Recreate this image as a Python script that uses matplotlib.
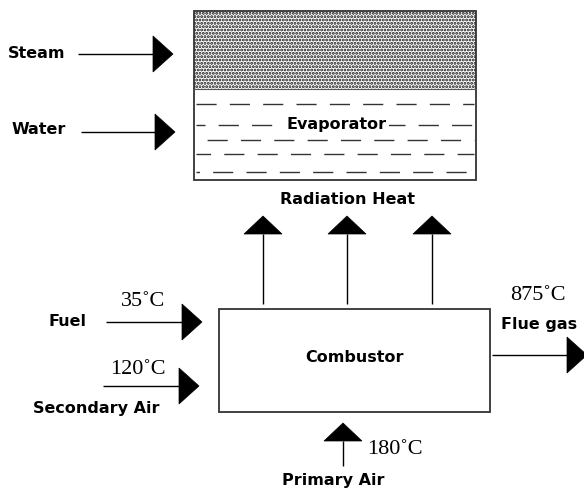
import matplotlib
matplotlib.use("Agg")
import matplotlib.pyplot as plt
from matplotlib.patches import Rectangle, Polygon

plt.rcParams['hatch.linewidth'] = 1.4

# Diagram labels
inlet_labels = ["Steam", "Water"]
feed_labels = ["Fuel", "Secondary Air"]
feed_temps = ["35˚C", "120˚C"]
flue_label = "Flue gas"
flue_temp = "875˚C"
primary_label = "Primary Air"
primary_temp = "180˚C"
unit_labels = ["Evaporator", "Combustor"]
heat_label = "Radiation Heat"

W, H = 584, 489
fig = plt.figure(figsize=(W / 100, H / 100), dpi=100)
ax = fig.add_axes([0, 0, 1, 1])
ax.set_xlim(0, W)
ax.set_ylim(H, 0)
ax.axis('off')

BOLD = dict(family='DejaVu Sans', fontweight='bold', fontsize=11.5, color='black')
SERIF = dict(family='Liberation Serif', fontsize=16, color='black')
EC = '#333333'


def harrow(x0, x1, y, head=20, half=18):
    ax.plot([x0, x1], [y, y], color='black', lw=1.0, solid_capstyle='butt')
    ax.add_patch(Polygon([[x1, y - half], [x1 + head, y], [x1, y + half]],
                         closed=True, fc='black', ec='black', lw=0.5))


def varrow(x, y0, y1, head=18, half=19):
    # y0 bottom, y1 base of the head (upwards)
    ax.plot([x, x], [y0, y1], color='black', lw=1.0, solid_capstyle='butt')
    ax.add_patch(Polygon([[x - half, y1], [x, y1 - head], [x + half, y1]],
                         closed=True, fc='black', ec='black', lw=0.5))


# Evaporator box
ex0, ey0, ex1, ey1, esplit = 194, 12, 476, 181, 90
ax.add_patch(Rectangle((ex0, ey0), ex1 - ex0, esplit - ey0, fc='white', ec='#111111',
                       hatch='.....', lw=0))
ax.add_patch(Rectangle((ex0, ey0), ex1 - ex0, ey1 - ey0, fc='none', ec=EC, lw=1.3))
ax.plot([ex0, ex1], [esplit, esplit], color='#555555', lw=0.8)

# water dashes
rows = [(105, 0), (126, 8), (141, 16), (155, 4), (173, 12)]
for yy, off in rows:
    ax.plot([ex0 + 2, ex1 - 2], [yy, yy], color='#333333', lw=1.0,
            linestyle=(off, (14.5, 9.5)))
ax.text(337, 125, unit_labels[0], ha='center', va='center',
        bbox=dict(fc='white', ec='none', pad=1.5), **BOLD)

# inlet arrows to evaporator
ax.text(8, 54, inlet_labels[0], ha='left', va='center', **BOLD)
harrow(78, 153, 55)
ax.text(12, 130, inlet_labels[1], ha='left', va='center', **BOLD)
harrow(81, 155, 133)

# Radiation heat
ax.text(347, 200, heat_label, ha='center', va='center', **BOLD)
for xx in [263, 347, 432]:
    varrow(xx, 305, 235)

# Combustor
cx0, cy0, cx1, cy1 = 219, 310, 490, 413
ax.add_patch(Rectangle((cx0, cy0), cx1 - cx0, cy1 - cy0, fc='white', ec=EC, lw=1.3))
ax.text(355, 358, unit_labels[1], ha='center', va='center', **BOLD)

# Fuel
ax.text(48, 322, feed_labels[0], ha='left', va='center', **BOLD)
ax.text(143, 302, feed_temps[0], ha='center', va='center', **SERIF)
harrow(106, 182, 323)

# Secondary air
ax.text(138, 369, feed_temps[1], ha='center', va='center', **SERIF)
harrow(103, 179, 387)
ax.text(33, 409, feed_labels[1], ha='left', va='center', **BOLD)

# Flue gas
ax.text(538, 295, flue_temp, ha='center', va='center', **SERIF)
ax.text(539, 324, flue_label, ha='center', va='center', **BOLD)
harrow(492, 567, 356)

# Primary air
varrow(343, 467, 442)
ax.text(395, 449, primary_temp, ha='center', va='center', **SERIF)
ax.text(333, 480, primary_label, ha='center', va='center', **BOLD)

fig.savefig('out.png', dpi=100)
